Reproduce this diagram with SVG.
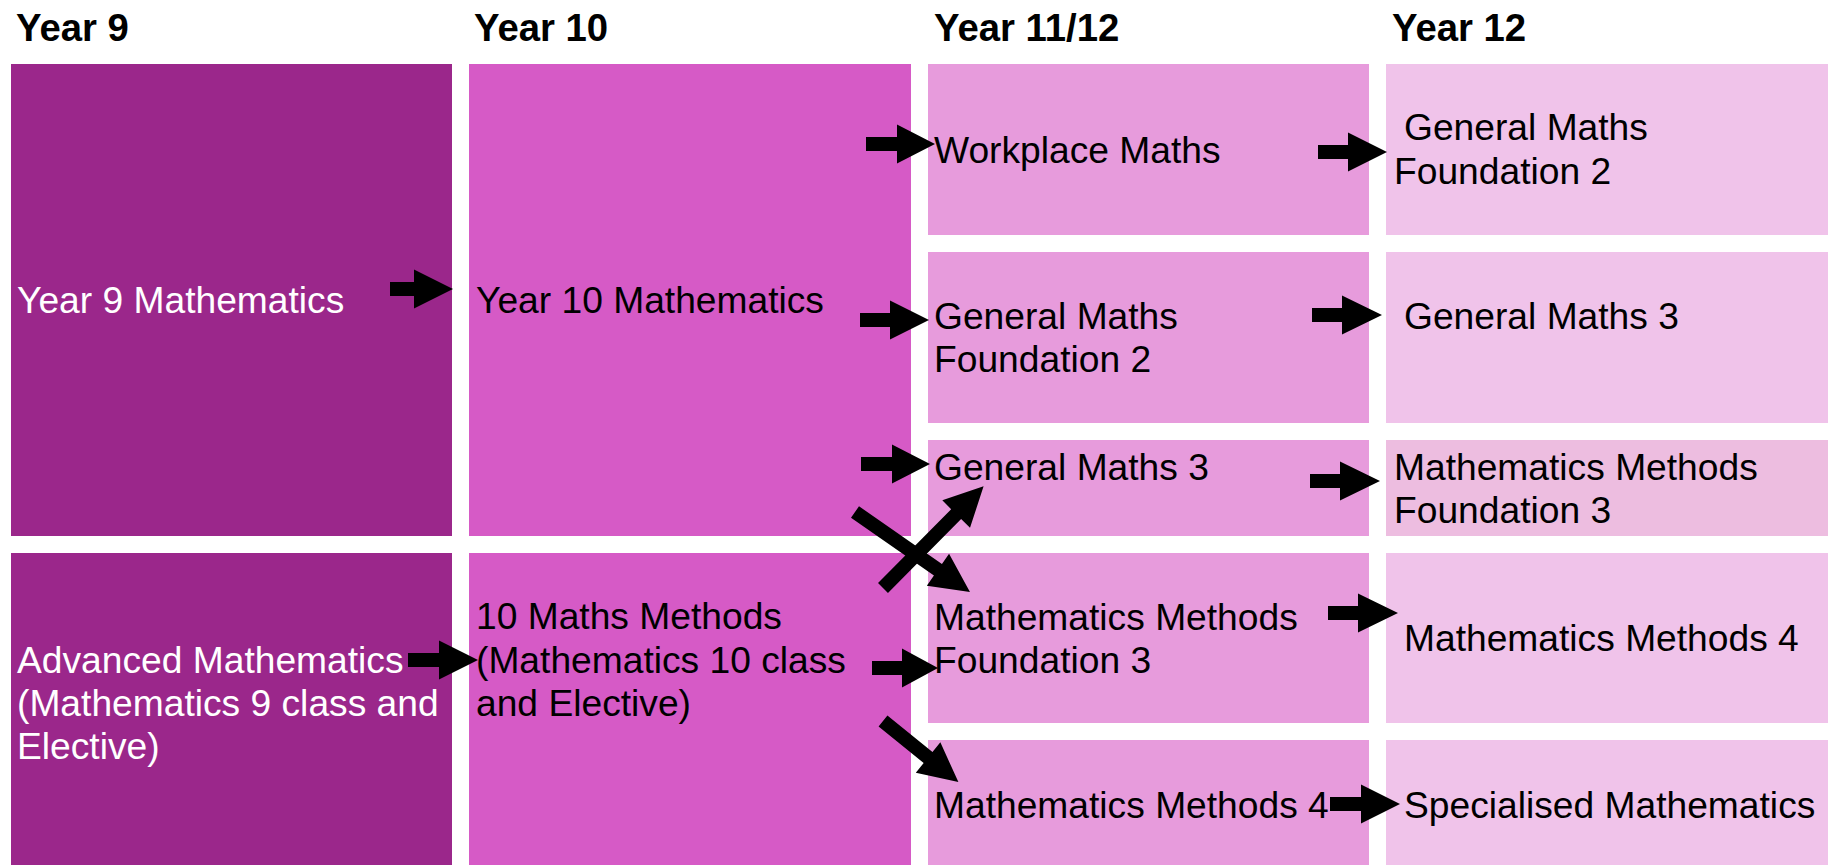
<svg xmlns="http://www.w3.org/2000/svg" width="1833" height="865" viewBox="0 0 1833 865">
<style>
text{font-family:"Liberation Sans",Arial,sans-serif;font-size:37.2px;fill:#000}
.hd{font-weight:bold;font-size:38.3px}
.w{fill:#fff}
.c1{fill:#9B278B}
.c2{fill:#D65AC6}
.c3{fill:#E79BDC}
.c4{fill:#F0C3EA}
.c4b{fill:#EDBDE0}
.arr{fill:#000}
</style>
<rect width="1833" height="865" fill="#fff"/>
<g id="headers">
<text class="hd" x="16" y="41">Year 9</text>
<text class="hd" x="474" y="41">Year 10</text>
<text class="hd" x="934" y="41">Year 11/12</text>
<text class="hd" x="1392" y="41">Year 12</text>
</g>
<g id="y9math">
<rect class="c1" x="11" y="64" width="441" height="472"/>
<text class="w" x="17" y="313">Year 9 Mathematics</text>
</g>
<g id="y9adv">
<rect class="c1" x="11" y="553" width="441" height="312"/>
<text class="w" x="17" y="673">Advanced Mathematics</text>
<text class="w" x="17" y="716">(Mathematics 9 class and</text>
<text class="w" x="17" y="759">Elective)</text>
</g>
<g id="y10math">
<rect class="c2" x="469" y="64" width="442" height="472"/>
<text x="476" y="313">Year 10 Mathematics</text>
</g>
<g id="y10methods">
<rect class="c2" x="469" y="553" width="442" height="312"/>
<text x="476" y="629">10 Maths Methods</text>
<text x="476" y="673">(Mathematics 10 class</text>
<text x="476" y="716">and Elective)</text>
</g>
<g id="workplace">
<rect class="c3" x="928" y="64" width="441" height="171"/>
<text x="934" y="163">Workplace Maths</text>
</g>
<g id="gmf2a">
<rect class="c3" x="928" y="252" width="441" height="171"/>
<text x="934" y="329">General Maths</text>
<text x="934" y="372">Foundation 2</text>
</g>
<g id="gm3a">
<rect class="c3" x="928" y="440" width="441" height="96"/>
<text x="934" y="480">General Maths 3</text>
</g>
<g id="mmf3a">
<rect class="c3" x="928" y="553" width="441" height="170"/>
<text x="934" y="630">Mathematics Methods</text>
<text x="934" y="673">Foundation 3</text>
</g>
<g id="mm4a">
<rect class="c3" x="928" y="740" width="441" height="125"/>
<text x="934" y="818">Mathematics Methods 4</text>
</g>
<g id="gmf2b">
<rect class="c4" x="1386" y="64" width="442" height="171"/>
<text x="1404" y="140">General Maths</text>
<text x="1394" y="184">Foundation 2</text>
</g>
<g id="gm3b">
<rect class="c4" x="1386" y="252" width="442" height="171"/>
<text x="1404" y="329">General Maths 3</text>
</g>
<g id="mmf3b">
<rect class="c4b" x="1386" y="440" width="442" height="96"/>
<text x="1394" y="480">Mathematics Methods</text>
<text x="1394" y="523">Foundation 3</text>
</g>
<g id="mm4b">
<rect class="c4" x="1386" y="553" width="442" height="170"/>
<text x="1404" y="651">Mathematics Methods 4</text>
</g>
<g id="spec">
<rect class="c4" x="1386" y="740" width="442" height="125"/>
<text x="1404" y="818">Specialised Mathematics</text>
</g>
<g id="connectors">
<path class="arr" transform="translate(390,289)" d="M0,-7H24V-19.5L63,0L24,19.5V7H0Z"/>
<path class="arr" transform="translate(866,144)" d="M0,-7H31V-19.5L69,0L31,19.5V7H0Z"/>
<path class="arr" transform="translate(860,320)" d="M0,-7H30V-19.5L69,0L30,19.5V7H0Z"/>
<path class="arr" transform="translate(861,464)" d="M0,-7H31V-19.5L69,0L31,19.5V7H0Z"/>
<path class="arr" transform="translate(883,588) rotate(-45.3)" d="M0,-7H104V-19.5L143,0L104,19.5V7H0Z"/>
<path class="arr" transform="translate(855,512) rotate(34.8)" d="M0,-7H101V-19.5L140,0L101,19.5V7H0Z"/>
<path class="arr" transform="translate(408,660)" d="M0,-7H31V-19.5L70,0L31,19.5V7H0Z"/>
<path class="arr" transform="translate(872,668)" d="M0,-7H30V-19.5L66,0L30,19.5V7H0Z"/>
<path class="arr" transform="translate(883,721) rotate(39)" d="M0,-7H58V-19.5L97,0L58,19.5V7H0Z"/>
<path class="arr" transform="translate(1318,152)" d="M0,-7H30V-19.5L69,0L30,19.5V7H0Z"/>
<path class="arr" transform="translate(1312,315)" d="M0,-7H30V-19.5L70,0L30,19.5V7H0Z"/>
<path class="arr" transform="translate(1310,481)" d="M0,-7H30V-19.5L70,0L30,19.5V7H0Z"/>
<path class="arr" transform="translate(1328,613)" d="M0,-7H30V-19.5L70,0L30,19.5V7H0Z"/>
<path class="arr" transform="translate(1330,804)" d="M0,-7H31V-19.5L70,0L31,19.5V7H0Z"/>
</g>
</svg>
